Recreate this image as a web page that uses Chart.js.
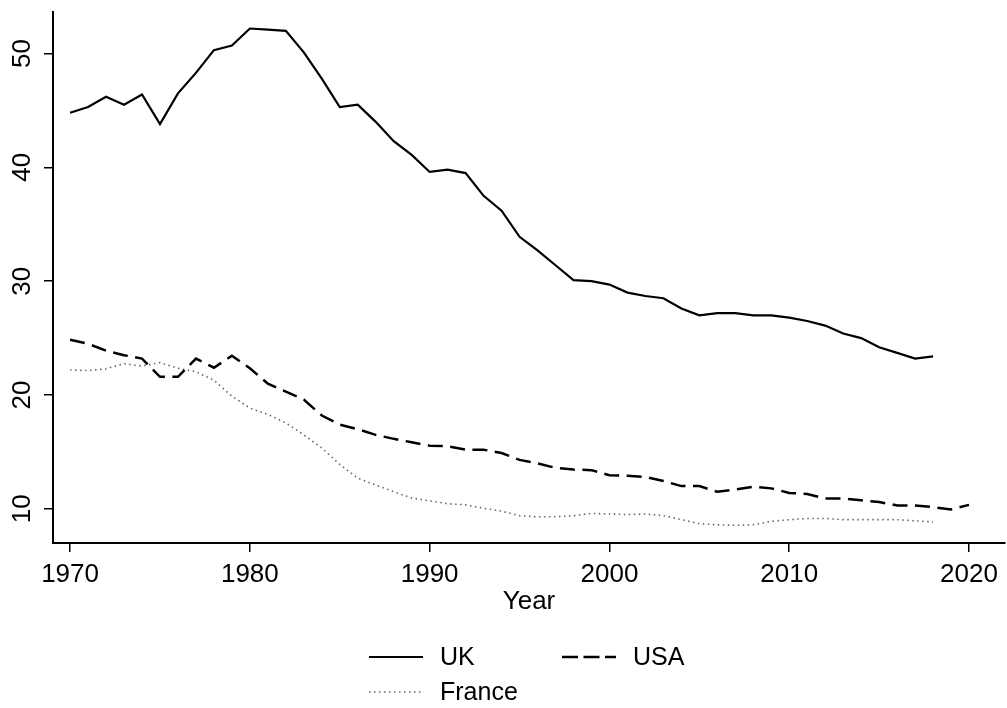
<!DOCTYPE html>
<html lang="en">
<head>
<meta charset="UTF-8">
<title>UK, USA and France by year</title>
<script src="https://cdn.jsdelivr.net/npm/chart.js"></script>
<style>
  html, body { margin: 0; padding: 0; background: #fff; }
</style>
</head>
<body>
<canvas id="chart" width="1007" height="708"></canvas>
<script>
// data
const years = [1970, 1971, 1972, 1973, 1974, 1975, 1976, 1977, 1978, 1979,
               1980, 1981, 1982, 1983, 1984, 1985, 1986, 1987, 1988, 1989,
               1990, 1991, 1992, 1993, 1994, 1995, 1996, 1997, 1998, 1999,
               2000, 2001, 2002, 2003, 2004, 2005, 2006, 2007, 2008, 2009,
               2010, 2011, 2012, 2013, 2014, 2015, 2016, 2017, 2018, 2019, 2020];

const uk = [44.8, 45.3, 46.2, 45.5, 46.4, 43.8, 46.5, 48.3, 50.3, 50.7,
            52.2, 52.1, 52.0, 50.1, 47.8, 45.3, 45.5, 44.0, 42.3, 41.1,
            39.6, 39.8, 39.5, 37.5, 36.2, 33.9, 32.7, 31.4, 30.1, 30.0,
            29.7, 29.0, 28.7, 28.5, 27.6, 27.0, 27.2, 27.2, 27.0, 27.0,
            26.8, 26.5, 26.1, 25.4, 25.0, 24.2, 23.7, 23.2, 23.4];

const usa = [24.85, 24.5, 23.9, 23.5, 23.2, 21.6, 21.6, 23.2, 22.4, 23.45,
             22.35, 21.0, 20.3, 19.6, 18.2, 17.4, 17.0, 16.5, 16.15, 15.85,
             15.55, 15.5, 15.2, 15.2, 14.9, 14.3, 14.0, 13.6, 13.45, 13.4,
             12.95, 12.9, 12.8, 12.45, 12.0, 12.0, 11.5, 11.7, 11.95, 11.8,
             11.4, 11.3, 10.9, 10.9, 10.75, 10.6, 10.3, 10.3, 10.15, 9.95, 10.35];

const france = [22.2, 22.15, 22.3, 22.75, 22.55, 22.85, 22.35, 22.05, 21.3, 19.9,
                18.85, 18.3, 17.55, 16.5, 15.35, 13.9, 12.7, 12.1, 11.5, 10.95,
                10.7, 10.45, 10.35, 10.05, 9.8, 9.4, 9.3, 9.3, 9.4, 9.6,
                9.55, 9.5, 9.55, 9.4, 9.05, 8.7, 8.6, 8.55, 8.6, 8.9,
                9.05, 9.15, 9.15, 9.05, 9.05, 9.05, 9.05, 8.95, 8.85];

const yTicks = [10, 20, 30, 40, 50];
const xTicks = [1970, 1980, 1990, 2000, 2010, 2020];
const xTitle = 'Year';

const FONT = '"Liberation Sans", Arial, Helvetica, sans-serif';

function toPoints(vals) {
  return vals.map((v, i) => ({ x: years[i], y: v }));
}

// y labels (rotated), axis title and the two-column legend
const overlay = {
  id: 'overlay',
  afterDraw(chart) {
    const ctx = chart.ctx;
    const ys = chart.scales.y;
    const area = chart.chartArea;
    ctx.save();
    ctx.fillStyle = '#000';
    ctx.font = '26px ' + FONT;
    ctx.textAlign = 'center';
    ctx.textBaseline = 'middle';
    yTicks.forEach(v => {
      ctx.save();
      ctx.translate(23, ys.getPixelForValue(v));
      ctx.rotate(-Math.PI / 2);
      ctx.fillText(String(v), 0, 0);
      ctx.restore();
    });
    ctx.fillText(xTitle, (area.left + area.right) / 2, 602);

    ctx.font = '25px ' + FONT;
    const spots = [[369, 657, 440], [562, 657, 633], [369, 692, 440]];
    const legendDash = [[], [16, 5.5], [1.5, 3.5]];
    chart.data.datasets.forEach((ds, i) => {
      const [lx, ly, tx] = spots[i];
      ctx.save();
      ctx.strokeStyle = ds.borderColor;
      ctx.lineWidth = ds.borderWidth;
      ctx.setLineDash(legendDash[i]);
      ctx.beginPath();
      ctx.moveTo(lx, ly);
      ctx.lineTo(lx + 54, ly);
      ctx.stroke();
      ctx.restore();
      ctx.textAlign = 'left';
      ctx.fillText(ds.label, tx, ly + 1);
    });
    ctx.restore();
  }
};

new Chart(document.getElementById('chart'), {
  type: 'line',
  data: {
    datasets: [
      { label: 'UK', data: toPoints(uk), borderColor: '#000', borderWidth: 2.2 },
      { label: 'USA', data: toPoints(usa), borderColor: '#000', borderWidth: 2.5, borderDash: [15, 7.5] },
      { label: 'France', data: toPoints(france), borderColor: '#666', borderWidth: 1.6, borderDash: [1.5, 3.5] }
    ]
  },
  options: {
    responsive: false,
    devicePixelRatio: 1,
    animation: false,
    layout: { padding: { left: 0, top: 12, right: 2, bottom: 0 } },
    elements: {
      point: { radius: 0 },
      line: { tension: 0, fill: false }
    },
    plugins: {
      legend: { display: false },
      tooltip: { enabled: false }
    },
    scales: {
      x: {
        type: 'linear',
        min: 1969.05,
        max: 2022,
        afterFit(s) { s.height = 165; },
        afterBuildTicks(s) { s.ticks = xTicks.map(v => ({ value: v })); },
        border: { display: true, color: '#000', width: 2 },
        grid: { drawOnChartArea: false, drawTicks: true, tickLength: 9, color: '#000', lineWidth: 1.5 },
        ticks: {
          color: '#000',
          font: { size: 26, family: FONT },
          padding: 7,
          maxRotation: 0,
          autoSkip: false,
          callback: v => String(v)
        }
      },
      y: {
        type: 'linear',
        min: 7,
        max: 53.65,
        afterFit(s) { s.width = 53; },
        afterBuildTicks(s) { s.ticks = yTicks.map(v => ({ value: v })); },
        border: { display: true, color: '#000', width: 2 },
        grid: { drawOnChartArea: false, drawTicks: true, tickLength: 9, color: '#000', lineWidth: 1.5 },
        ticks: { display: false }
      }
    }
  },
  plugins: [overlay]
});
</script>
</body>
</html>
